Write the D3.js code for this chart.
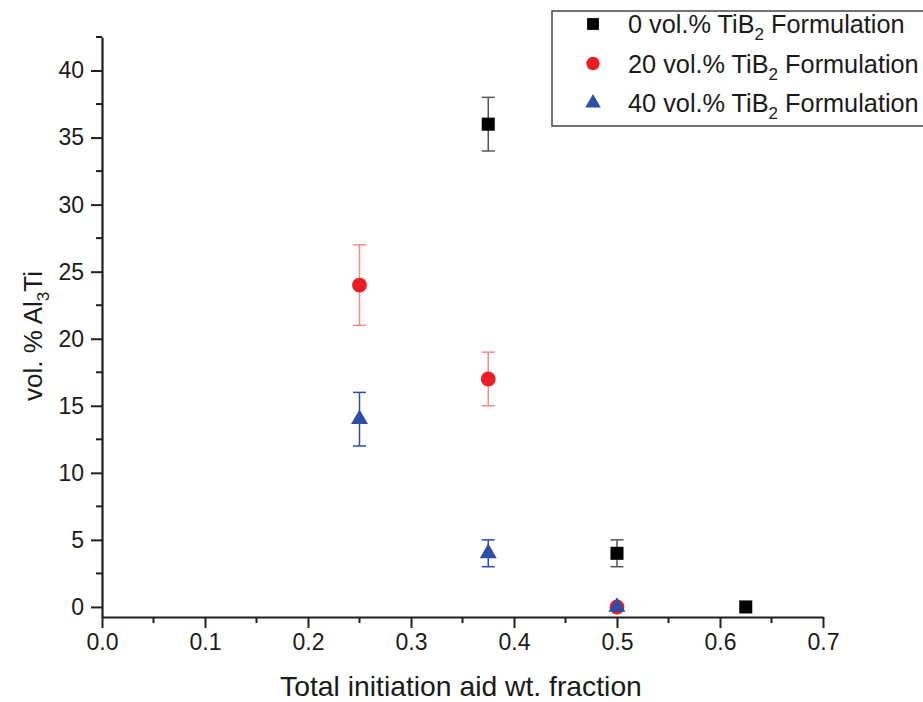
<!DOCTYPE html>
<html>
<head>
<meta charset="utf-8">
<script src="https://cdn.jsdelivr.net/npm/d3@7"></script>
<style>
  body { margin: 0; background: #fff; }
  text { font-family: "Liberation Sans", Arial, sans-serif; fill: #1a1a1a; }
</style>
</head>
<body>
<svg id="chart"></svg>
<script>
// data
let seriesLabels = ['0 vol.% TiB', '20 vol.% TiB', '40 vol.% TiB']
let seriesColors = ['#000000', '#ec1c24', '#2c4ea6']
let errColors = ['#555555', '#f08a8e', '#2c4ea6']
let seriesShapes = [d3.symbolSquare, d3.symbolCircle, d3.symbolTriangle]

let x0 = [0.375, 0.5, 0.625]
let y0 = [36, 4, 0]
let e0 = [2, 1, 0]

let x20 = [0.25, 0.375, 0.5]
let y20 = [24, 17, 0]
let e20 = [3, 2, 0]

let x40 = [0.25, 0.375, 0.5]
let y40 = [14, 4, 0]
let e40 = [2, 1, 0]

let xTicks = [0, 0.1, 0.2, 0.3, 0.4, 0.5, 0.6, 0.7]
let yTicks = [0, 5, 10, 15, 20, 25, 30, 35, 40]

let allX = [x0, x20, x40]
let allY = [y0, y20, y40]
let allE = [e0, e20, e40]

let opts = {
    width: 923,
    height: 702,
    left: 102,
    right: 823,
    top: 37,
    bottom: 617,
}

let svg = d3.select('#chart')
    .attr('width', opts.width)
    .attr('height', opts.height)

let x = d3.scaleLinear().domain([0, 0.7]).range([opts.left, opts.right])
let y = d3.scaleLinear().domain([-0.75, 42.5]).range([opts.bottom, opts.top])

let axisColor = '#1f1f1f'

// minor ticks
let xMinor = d3.range(0.05, 0.7, 0.1)
let yMinor = d3.range(2.5, 42.6, 5)

let xAxis = svg.append('g')
    .attr('transform', 'translate(0,' + opts.bottom + ')')
    .call(d3.axisBottom(x).tickValues(xTicks).tickFormat(d3.format('.1f'))
        .tickSize(11).tickSizeOuter(0).tickPadding(6))
xAxis.append('g').selectAll('line').data(xMinor).enter().append('line')
    .attr('x1', d => x(d)).attr('x2', d => x(d))
    .attr('y1', 0).attr('y2', 6)

let yAxis = svg.append('g')
    .attr('transform', 'translate(' + opts.left + ',0)')
    .call(d3.axisLeft(y).tickValues(yTicks)
        .tickSize(11).tickSizeOuter(0).tickPadding(7))
yAxis.append('g').selectAll('line').data(yMinor).enter().append('line')
    .attr('y1', d => y(d)).attr('y2', d => y(d))
    .attr('x1', 0).attr('x2', -6)

svg.selectAll('.domain').attr('stroke', axisColor).attr('stroke-width', 2.2)
svg.selectAll('.tick line').attr('stroke', axisColor).attr('stroke-width', 2)
xAxis.selectAll('g > line').attr('stroke', axisColor).attr('stroke-width', 2)
yAxis.selectAll('g > line').attr('stroke', axisColor).attr('stroke-width', 2)
svg.selectAll('.tick text')
    .style('font-family', '"Liberation Sans", Arial, sans-serif')
    .style('font-size', '23px')
    .attr('fill', '#1a1a1a')

// error bars and markers
allX.forEach((xs, s) => {
    let pts = xs.map((v, i) => ({ x: v, y: allY[s][i], e: allE[s][i] }))
    let g = svg.append('g')
    let withErr = pts.filter(d => d.e > 0)
    g.selectAll('line.err').data(withErr).enter().append('line')
        .attr('x1', d => x(d.x)).attr('x2', d => x(d.x))
        .attr('y1', d => y(d.y - d.e)).attr('y2', d => y(d.y + d.e))
        .attr('stroke', errColors[s]).attr('stroke-width', 1.5)
    ;[1, -1].forEach(sign => {
        g.selectAll('line.cap' + sign).data(withErr).enter().append('line')
            .attr('x1', d => x(d.x) - 6.5).attr('x2', d => x(d.x) + 6.5)
            .attr('y1', d => y(d.y + sign * d.e)).attr('y2', d => y(d.y + sign * d.e))
            .attr('stroke', errColors[s]).attr('stroke-width', 1.5)
    })
    let size = s === 2 ? 125 : (s === 1 ? 175 : 170)
    g.selectAll('path.pt').data(pts).enter().append('path')
        .attr('d', d3.symbol().type(seriesShapes[s]).size(size))
        .attr('transform', d => 'translate(' + x(d.x) + ',' + y(d.y) + ')')
        .attr('fill', seriesColors[s])
})

// legend
let legend = svg.append('g')
legend.append('rect')
    .attr('x', 552).attr('y', 11)
    .attr('width', 380).attr('height', 115)
    .attr('fill', 'none').attr('stroke', '#444').attr('stroke-width', 1.5)

seriesLabels.forEach((lab, i) => {
    let cy = 24 + i * 39.5
    legend.append('path')
        .attr('d', d3.symbol().type(seriesShapes[i]).size(i === 2 ? 105 : 140))
        .attr('transform', 'translate(593,' + cy + ')')
        .attr('fill', seriesColors[i])
    let t = legend.append('text')
        .attr('x', 628).attr('y', cy + 9)
        .style('font-size', '25.3px')
    t.append('tspan').text(lab)
    t.append('tspan').text('2').style('font-size', '17px').attr('dy', 7)
    t.append('tspan').text(' Formulation').attr('dy', -7)
})

// axis titles
svg.append('text')
    .attr('x', 461).attr('y', 696)
    .attr('text-anchor', 'middle')
    .style('font-size', '28.3px')
    .text('Total initiation aid wt. fraction')

let yt = svg.append('text')
    .attr('transform', 'translate(42,336) rotate(-90)')
    .attr('text-anchor', 'middle')
    .style('font-size', '26px')
yt.append('tspan').text('vol. % Al')
yt.append('tspan').text('3').style('font-size', '17px').attr('dy', 7)
yt.append('tspan').text('Ti').attr('dy', -7)
</script>
</body>
</html>
